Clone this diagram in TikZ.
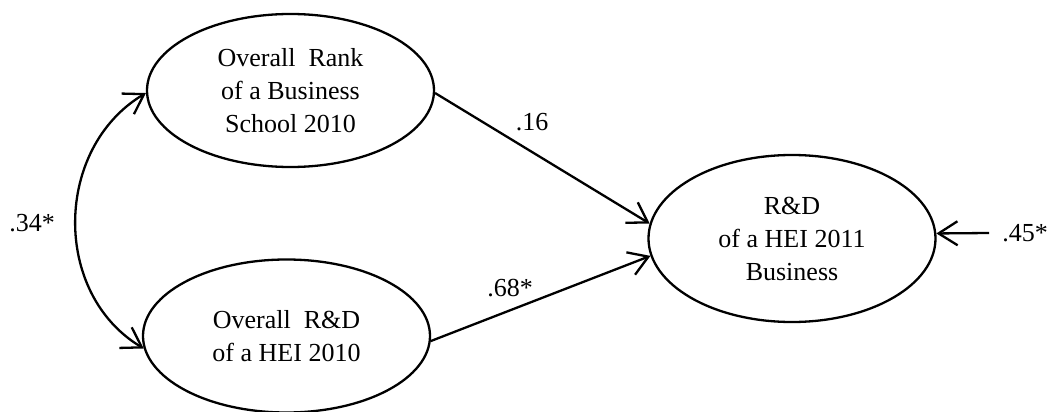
\documentclass[tikz,border=0pt]{standalone}
\usepackage{fontspec}
\setmainfont{Liberation Serif}
\usetikzlibrary{shapes.geometric,arrows.meta}
\begin{document}
\begin{tikzpicture}[x=1pt,y=-1pt,
  every node/.style={font=\fontsize{26}{33}\selectfont},
  latent/.style={draw,ellipse,line width=2.3pt,inner sep=0pt,
    minimum width=287pt,minimum height=153pt,align=center},
  coef/.style={inner sep=0pt},
  tip/.style={Straight Barb[length=19pt,width=24pt,line width=2.3pt]},
  path/.style={line width=2.3pt,-{Straight Barb[length=19pt,width=24pt,line width=2.3pt]}},
  covar/.style={line width=2.3pt,{Straight Barb[length=19pt,width=24pt,line width=2.3pt]}-{Straight Barb[length=19pt,width=24pt,line width=2.3pt]}}]
  \useasboundingbox[fill=white] (0,0) rectangle (1050,412);

  % latent variables
  \node[latent] (rank) at (290.5,90.5) {Overall\hspace{0.5em}Rank\\of a Business\\School 2010};
  \node[latent] (rd10) at (286.5,336) {Overall\hspace{0.5em}R\&D\\of a HEI 2010};
  \node[latent,minimum height=167pt] (rd11) at (792,238.5) {R\&D\\of a HEI 2011\\Business};

  % residual input
  \coordinate (res) at (989,233);
  \node[coef] (e45) at (1025,233) {.45*};

  % paths
  \draw[path] (rank.-1) -- (rd11.174);
  \draw[path] (rd10.-2) -- (rd11.187);
  \draw[path] (res) -- (rd11.2);

  % covariance between the exogenous variables
  \draw[covar] (rank.181) .. controls +(-92,55) and +(-92,-55) .. (rd10.185);

  % coefficients
  \node[coef] (c16) at (532,122) {.16};
  \node[coef] (c68) at (510,288) {.68*};
  \node[coef] (c34) at (32,223) {.34*};
\end{tikzpicture}
\end{document}
